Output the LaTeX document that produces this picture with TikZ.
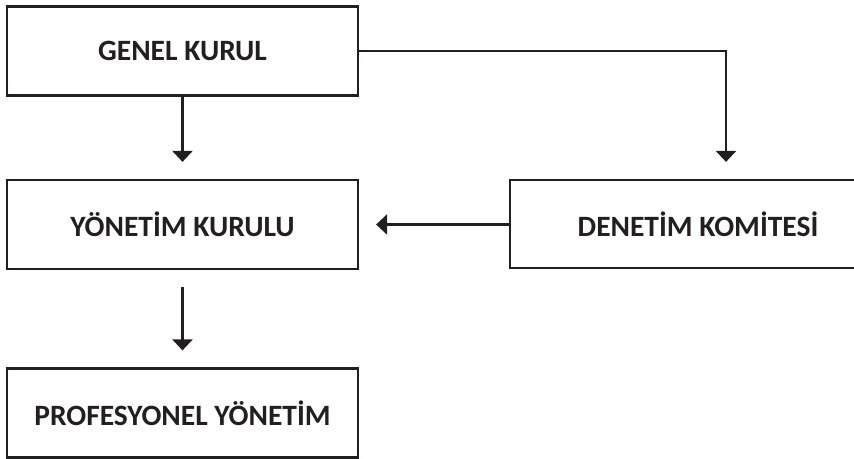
\documentclass[tikz,border=0pt]{standalone}
\usepackage{fontspec}
\setmainfont{Carlito}
\usetikzlibrary{arrows.meta}
\definecolor{ink}{HTML}{231F20}
\begin{document}
\begin{tikzpicture}[x=1pt,y=-1pt,
  box/.style={draw=ink, line width=2.2pt, rectangle, minimum width=351pt, minimum height=89pt, inner sep=0pt, text=ink, font=\fontsize{29.5}{31}\selectfont\bfseries},
  conn/.style={draw=ink, line width=2.4pt, -{Triangle[width=20pt,length=11pt]}}]
\useasboundingbox (0,0) rectangle (854,458);
\clip (0,0) rectangle (854,458);
\node[box] (gk) at (182.5,51) {GENEL KURUL};
\node[box] (yk) at (182.5,224.5) {YÖNETİM KURULU\hspace{22pt}};
\node[box, minimum width=376pt, minimum height=88pt] (dk) at (698,224) {DENETİM KOMİTESİ};
\node[box] (py) at (182.5,413) {PROFESYONEL YÖNETİM};
\coordinate (corner) at (726,51);
\draw[conn, shorten >=17pt] (gk.south) -- (yk.north);
\draw[conn, shorten >=17pt] (gk.east |- corner) -- (corner) -- (corner |- dk.north);
\draw[conn, shorten >=17pt] (dk.west |- yk.east) -- (yk.east);
\draw[conn, shorten <=17pt, shorten >=17pt] (yk.south) -- (py.north);
\end{tikzpicture}
\end{document}
